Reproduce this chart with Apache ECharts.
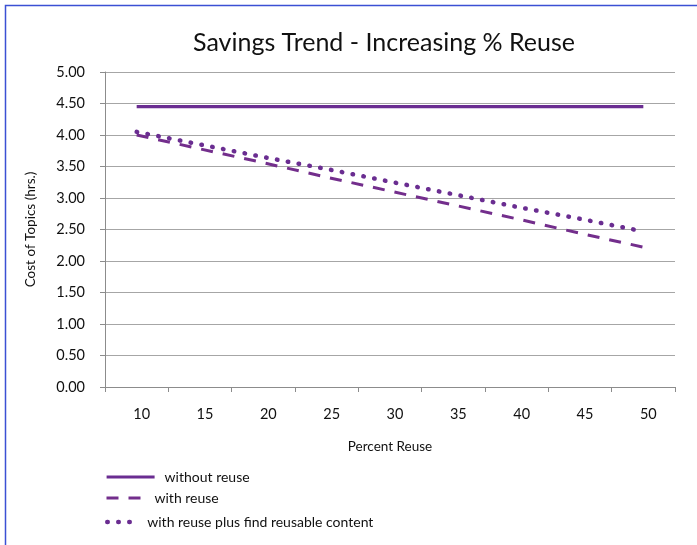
<!DOCTYPE html>
<html>
<head>
<meta charset="utf-8">
<script src="https://cdn.jsdelivr.net/npm/echarts@6/dist/echarts.min.js"></script>
<style>
html,body{margin:0;padding:0;background:#fff;}
#chart{width:697px;height:545px;}
</style>
</head>
<body>
<div id="chart"></div>
<script>
const categories = ['10', '15', '20', '25', '30', '35', '40', '45', '50'];
const withoutReuse = [4.45, 4.45, 4.45, 4.45, 4.45, 4.45, 4.45, 4.45, 4.45];
const withReuse = [4.00, 3.78, 3.56, 3.33, 3.11, 2.89, 2.67, 2.44, 2.22];
const withReusePlusFind = [4.05, 3.85, 3.65, 3.46, 3.26, 3.06, 2.86, 2.67, 2.47];
const seriesNames = ['without reuse', 'with reuse', 'with reuse plus find reusable content'];

const FONT = 'Lato, "Open Sans", sans-serif';
const legendBase = {
  orient: 'vertical', left: 105, padding: 0, itemHeight: 12,
  itemStyle: { opacity: 0, borderWidth: 0 }
};
const legendText = { fontFamily: FONT, fontSize: 14, color: '#111' };
const chart = echarts.init(document.getElementById('chart'));
chart.setOption({
  animation: false,
  backgroundColor: '#fff',
  textStyle: { fontFamily: FONT },
  title: {
    text: 'Savings Trend - Increasing % Reuse',
    left: 379, top: 25, textAlign: 'center',
    textStyle: { fontFamily: FONT, fontSize: 25, fontWeight: 'normal', color: '#111' }
  },
  graphic: [{
    type: 'rect', silent: true, z: -1,
    shape: { x: 5.5, y: 5.5, width: 900, height: 900 },
    style: { fill: 'none', stroke: '#3b50d4', lineWidth: 1.5 }
  }],
  grid: { left: 105, right: 22, top: 72, bottom: 158 },
  legend: [
    Object.assign({}, legendBase, { data: [seriesNames[0]], top: 470, itemWidth: 48,
      lineStyle: { width: 3.2 },
      textStyle: Object.assign({}, legendText, { padding: [0, 0, 0, 5] }) }),
    Object.assign({}, legendBase, { data: [seriesNames[1]], top: 491, itemWidth: 35,
      lineStyle: { width: 3 },
      textStyle: Object.assign({}, legendText, { padding: [0, 0, 0, 8] }) }),
    Object.assign({}, legendBase, { data: [seriesNames[2]], top: 515, itemWidth: 24,
      lineStyle: { width: 4.5 },
      textStyle: Object.assign({}, legendText, { padding: [0, 0, 0, 11] }) })
  ],
  xAxis: {
    type: 'category', data: categories, boundaryGap: true,
    name: 'Percent Reuse', nameLocation: 'middle', nameGap: 53,
    nameTextStyle: { fontFamily: FONT, fontSize: 13.5, color: '#111' },
    axisLine: { lineStyle: { color: '#8c8c8c', width: 1 } },
    axisTick: { show: true, length: 5, lineStyle: { color: '#8c8c8c' } },
    axisLabel: { fontFamily: FONT, fontSize: 14.5, color: '#111', margin: 20, padding: [0, 0, 0, 10] },
    splitLine: { show: false }
  },
  yAxis: {
    type: 'value', min: 0, max: 5, interval: 0.5,
    name: 'Cost of Topics (hrs.)', nameLocation: 'middle', nameGap: 67,
    nameTextStyle: { fontFamily: FONT, fontSize: 13.5, color: '#111' },
    axisLine: { show: true, lineStyle: { color: '#8c8c8c', width: 1 } },
    axisTick: { show: true, length: 5, lineStyle: { color: '#8c8c8c' } },
    axisLabel: { fontFamily: FONT, fontSize: 14.5, color: '#111', margin: 20, formatter: v => v.toFixed(2) },
    splitLine: { show: true, lineStyle: { color: '#a6a6a6', width: 1 } }
  },
  series: [
    { name: seriesNames[0], type: 'line', data: withoutReuse, symbol: 'none',
      lineStyle: { color: '#6a2d91', width: 3.2, type: 'solid' }, itemStyle: { color: '#6a2d91' } },
    { name: seriesNames[1], type: 'line', data: withReuse, symbol: 'none',
      lineStyle: { color: '#732e8c', width: 3, type: [12, 10], cap: 'butt' }, itemStyle: { color: '#732e8c' } },
    { name: seriesNames[2], type: 'line', data: withReusePlusFind, symbol: 'none',
      lineStyle: { color: '#6a2d91', width: 4.5, type: [0.5, 10.5], cap: 'round' }, itemStyle: { color: '#6a2d91' } }
  ]
});
</script>
</body>
</html>
